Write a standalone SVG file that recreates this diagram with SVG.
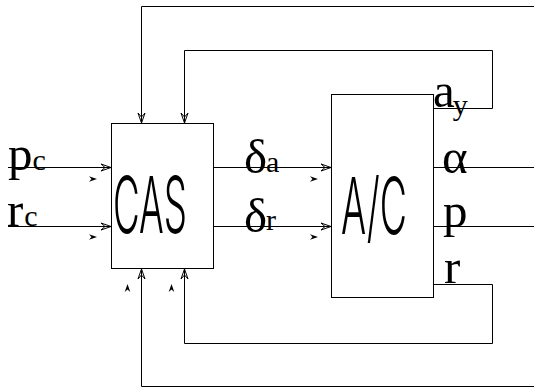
<svg xmlns="http://www.w3.org/2000/svg" xmlns:xlink="http://www.w3.org/1999/xlink" width="534" height="389" viewBox="0 0 534 389">
<style>
.ln{fill:none;stroke:#000;stroke-width:1}
.box{fill:#fff;stroke:#000;stroke-width:1}
.big{font-family:Inter,"Liberation Sans",Arial,sans-serif;font-weight:300;font-size:78px;fill:#000}
.lb{font-family:"Liberation Serif","Times New Roman",serif;font-size:49px;fill:#000}
.sb{font-size:30px}
.sa{fill:#000;stroke:none}
</style>
<defs>
<marker id="ah" markerUnits="userSpaceOnUse" markerWidth="14" markerHeight="10" viewBox="-12 -5 14 10" refX="0" refY="0" orient="auto" overflow="visible">
<path d="M-10,-3.5 L0,0 L-10,3.5 M-10,-3.5 L-6,0 L-10,3.5" fill="none" stroke="#000" stroke-width="1"/>
</marker>
<path id="sm" d="M-8,-2.8 L0,0 L-8,2.8 L-5.5,0 Z"/>
</defs>
<rect width="534" height="389" fill="#fff"/>
<g id="connectors">
<path class="ln" d="M8,167.5 H111" marker-end="url(#ah)"/>
<path class="ln" d="M8,226.5 H111" marker-end="url(#ah)"/>
<path class="ln" d="M214,167.5 H331" marker-end="url(#ah)"/>
<path class="ln" d="M214,226.5 H331" marker-end="url(#ah)"/>
<path class="ln" d="M434,167.5 H534"/>
<path class="ln" d="M434,226.5 H534"/>
<path class="ln" d="M434,108.5 H492.5 V50.5 H184.5 V123" marker-end="url(#ah)"/>
<path class="ln" d="M534,6.5 H141.5 V123" marker-end="url(#ah)"/>
<path class="ln" d="M434,284.5 H492.5 V343.5 H184.5 V269" marker-end="url(#ah)"/>
<path class="ln" d="M534,386.5 H141.5 V269" marker-end="url(#ah)"/>
<g class="sa">
<use xlink:href="#sm" transform="translate(97,179)"/>
<use xlink:href="#sm" transform="translate(97,237)"/>
<use xlink:href="#sm" transform="translate(318,179)"/>
<use xlink:href="#sm" transform="translate(318,237)"/>
<use xlink:href="#sm" transform="translate(129,134) rotate(90)"/>
<use xlink:href="#sm" transform="translate(172,134) rotate(90)"/>
<use xlink:href="#sm" transform="translate(127.5,284) rotate(-90)"/>
<use xlink:href="#sm" transform="translate(171.5,284) rotate(-90)"/>
</g>
</g>
<g id="CAS">
<rect class="box" x="111.5" y="123.5" width="102" height="145"/>
<text class="big" x="113" y="233" textLength="74" lengthAdjust="spacingAndGlyphs">CAS</text>
</g>
<g id="AC">
<rect class="box" x="331.5" y="94.5" width="102" height="203"/>
<text class="big" x="341" y="234" textLength="66" lengthAdjust="spacingAndGlyphs">A/C</text>
</g>
<g id="labels">
<text class="lb" x="8" y="170">p<tspan class="sb" dx="0">c</tspan></text>
<text class="lb" x="7" y="226">r<tspan class="sb" dx="1">c</tspan></text>
<text class="lb" x="244" y="173">δ<tspan class="sb" dx="-1" dy="-1">a</tspan></text>
<text class="lb" x="244" y="232">δ<tspan class="sb" dx="-1" dy="-2">r</tspan></text>
<text class="lb" x="433" y="107">a<tspan class="sb" dx="-2" dy="8">y</tspan></text>
<text class="lb" x="442" y="173">α</text>
<text class="lb" x="443" y="227">p</text>
<text class="lb" x="444" y="283">r</text>
</g>
</svg>
